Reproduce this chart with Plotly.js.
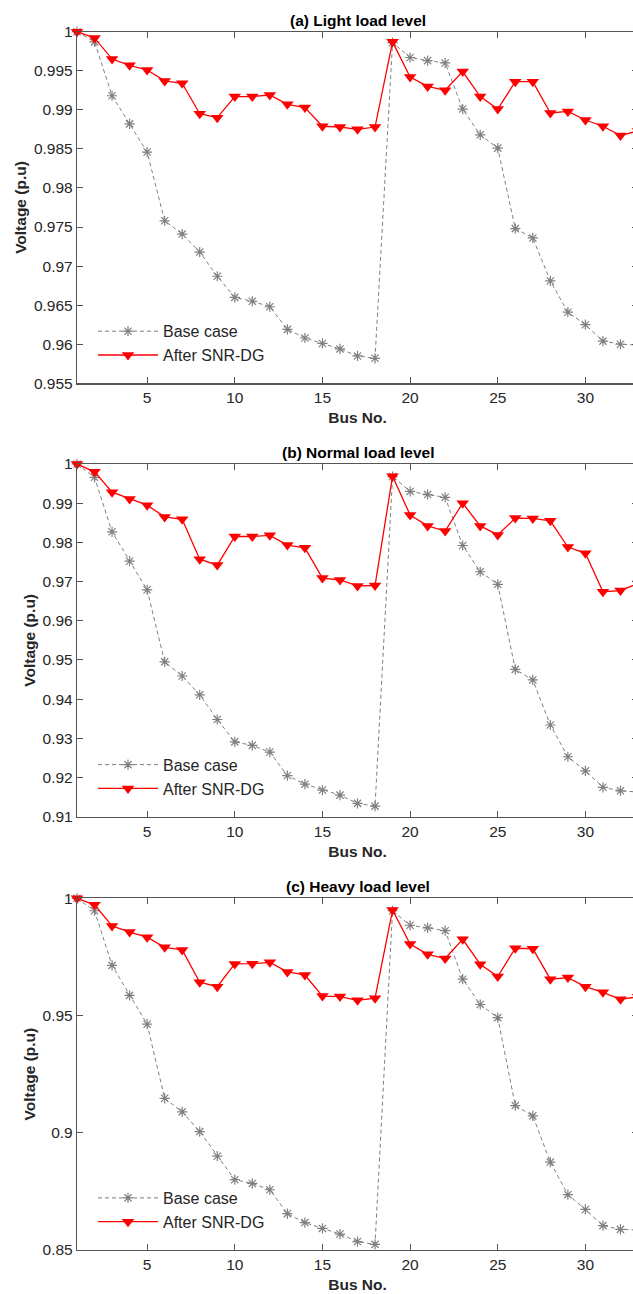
<!DOCTYPE html>
<html>
<head>
<meta charset="utf-8">
<script src="https://cdn.plot.ly/plotly-3.0.1.min.js"></script>
<style>
html, body { margin: 0; padding: 0; overflow: hidden; background: #fff; }
#chart { width: 660px; height: 1294px; }
</style>
</head>
<body>
<div id="chart"></div>
<script>
// ---- data ----
const busNo = [1,2,3,4,5,6,7,8,9,10,11,12,13,14,15,16,17,18,19,20,21,22,23,24,25,26,27,28,29,30,31,32,33];

const lightBase = [1.0,0.9987,0.9918,0.9882,0.9846,0.9758,0.9741,0.9718,0.9687,0.9660,0.9655,0.9648,0.9619,0.9608,0.9601,0.9594,0.9585,0.9582,0.9986,0.9967,0.9963,0.9960,0.9901,0.9868,0.9851,0.9748,0.9736,0.9681,0.9641,0.9625,0.9604,0.9600,0.9599];
const lightDG = [1.0,0.9992,0.9965,0.9957,0.9951,0.9937,0.9934,0.9895,0.9890,0.9917,0.9917,0.9919,0.9907,0.9903,0.9879,0.9878,0.9875,0.9878,0.9987,0.9942,0.9930,0.9925,0.9949,0.9917,0.9901,0.9936,0.9936,0.9896,0.9898,0.9887,0.9879,0.9867,0.9873];

const normalBase = [1.0,0.9966,0.9827,0.9752,0.9679,0.9495,0.9459,0.9411,0.9348,0.9291,0.9282,0.9265,0.9205,0.9183,0.9168,0.9155,0.9134,0.9127,0.9968,0.9930,0.9922,0.9915,0.9792,0.9725,0.9693,0.9476,0.9449,0.9334,0.9253,0.9217,0.9175,0.9166,0.9163];
const normalDG = [1.0,0.9980,0.9928,0.9911,0.9895,0.9865,0.9859,0.9757,0.9742,0.9815,0.9815,0.9818,0.9793,0.9786,0.9709,0.9704,0.9689,0.9690,0.9969,0.9870,0.9842,0.9829,0.9900,0.9842,0.9819,0.9862,0.9861,0.9855,0.9788,0.9772,0.9674,0.9677,0.9695];

const heavyBase = [1.0,0.9947,0.9714,0.9586,0.9463,0.9147,0.9089,0.9005,0.8900,0.8800,0.8784,0.8757,0.8655,0.8617,0.8592,0.8568,0.8536,0.8524,0.9947,0.9885,0.9874,0.9862,0.9655,0.9547,0.9491,0.9116,0.9072,0.8875,0.8736,0.8673,0.8604,0.8588,0.8585];
const heavyDG = [1.0,0.9972,0.9882,0.9856,0.9834,0.9791,0.9780,0.9642,0.9623,0.9720,0.9721,0.9727,0.9686,0.9673,0.9583,0.9581,0.9565,0.9574,0.9950,0.9805,0.9761,0.9743,0.9825,0.9719,0.9666,0.9787,0.9785,0.9655,0.9662,0.9623,0.9599,0.9569,0.9580];

const panelTitles = ['(a) Light load level', '(b) Normal load level', '(c) Heavy load level'];
const seriesNames = ['Base case', 'After SNR-DG'];
const xTickVals = [5,10,15,20,25,30];
const xTickText = ['5','10','15','20','25','30'];
const yTickValsA = [0.955,0.96,0.965,0.97,0.975,0.98,0.985,0.99,0.995,1];
const yTickTextA = ['0.955','0.96','0.965','0.97','0.975','0.98','0.985','0.99','0.995','1'];
const yTickValsB = [0.91,0.92,0.93,0.94,0.95,0.96,0.97,0.98,0.99,1];
const yTickTextB = ['0.91','0.92','0.93','0.94','0.95','0.96','0.97','0.98','0.99','1'];
const yTickValsC = [0.85,0.9,0.95,1];
const yTickTextC = ['0.85','0.9','0.95','1'];
const yRanges = [[0.955,1],[0.91,1],[0.85,1]];

// ---- layout geometry (pixels) ----
const W = 660, H = 1294;
const plotLeft = 77, plotRight = 638;
const panelsPx = [[31.7,383.3],[464,816.7],[898.3,1250]];

const gray = '#808080';
const red = '#ff0000';
const axisColor = '#555555';
const textColor = '#262626';
const FONT = 'Liberation Sans, Arial, Helvetica, sans-serif';

const bases = [lightBase, normalBase, heavyBase];
const dgs = [lightDG, normalDG, heavyDG];
const yTV = [yTickValsA, yTickValsB, yTickValsC];
const yTT = [yTickTextA, yTickTextB, yTickTextC];

const traces = [];
const layout = {
  width: W, height: H,
  margin: {l:0, r:0, t:0, b:0},
  paper_bgcolor: '#fff', plot_bgcolor: '#fff',
  font: {family: FONT, color: textColor, size: 15.5},
  showlegend: true,
  annotations: []
};

for (let i = 0; i < 3; i++) {
  const sfx = i === 0 ? '' : String(i + 1);
  const legendName = 'legend' + sfx;
  traces.push({
    x: busNo, y: bases[i], type: 'scatter', mode: 'lines+markers',
    name: seriesNames[0], xaxis: 'x' + sfx, yaxis: 'y' + sfx, legend: legendName,
    line: {color: gray, width: 1, dash: '4px,3px'},
    marker: {symbol: 'asterisk-open', size: 8.5, color: gray, line: {color: gray, width: 1.2}},
    cliponaxis: false
  });
  traces.push({
    x: busNo, y: dgs[i], type: 'scatter', mode: 'lines+markers',
    name: seriesNames[1], xaxis: 'x' + sfx, yaxis: 'y' + sfx, legend: legendName,
    line: {color: red, width: 1.3},
    marker: {symbol: 'triangle-down', size: 11, color: red},
    cliponaxis: false
  });
  const top = panelsPx[i][0], bot = panelsPx[i][1];
  const yd = [1 - bot / H, 1 - top / H];
  layout['xaxis' + sfx] = {
    domain: [plotLeft / W, plotRight / W], anchor: 'y' + sfx,
    range: [1, 33], tickmode: 'array', tickvals: xTickVals, ticktext: xTickText,
    ticks: 'inside', ticklen: 6, tickcolor: axisColor, tickwidth: 1,
    showline: true, linecolor: axisColor, linewidth: 1.2, mirror: 'ticks',
    showgrid: false, zeroline: false,
    tickfont: {size: 15.5, color: textColor, family: FONT},
    title: {text: '<b>Bus No.</b>', font: {size: 15.5, color: textColor, family: FONT}, standoff: 7}
  };
  layout['yaxis' + sfx] = {
    domain: yd, anchor: 'x' + sfx,
    range: yRanges[i], tickmode: 'array', tickvals: yTV[i], ticktext: yTT[i],
    ticks: 'inside', ticklen: 6, tickcolor: axisColor, tickwidth: 1,
    showline: true, linecolor: axisColor, linewidth: 1.2, mirror: 'ticks',
    showgrid: false, zeroline: false,
    tickfont: {size: 15.5, color: textColor, family: FONT},
    title: {text: '<b>Voltage (p.u)</b>', font: {size: 15.5, color: textColor, family: FONT}, standoff: 3}
  };
  layout[legendName] = {
    x: 93 / W, y: 1 - (bot - 69) / H, xanchor: 'left', yanchor: 'top',
    bgcolor: 'rgba(0,0,0,0)', borderwidth: 0,
    font: {size: 16, color: textColor, family: FONT},
    itemwidth: 60, tracegroupgap: 0
  };
  layout.annotations.push({
    text: '<b>' + panelTitles[i] + '</b>', xref: 'paper', yref: 'paper',
    x: (plotLeft + plotRight) / 2 / W, y: 1 - top / H, xanchor: 'center', yanchor: 'bottom',
    yshift: 1, showarrow: false, font: {size: 15.5, color: '#000', family: FONT}
  });
}

Plotly.newPlot('chart', traces, layout, {displayModeBar: false, staticPlot: true});
</script>
</body>
</html>
